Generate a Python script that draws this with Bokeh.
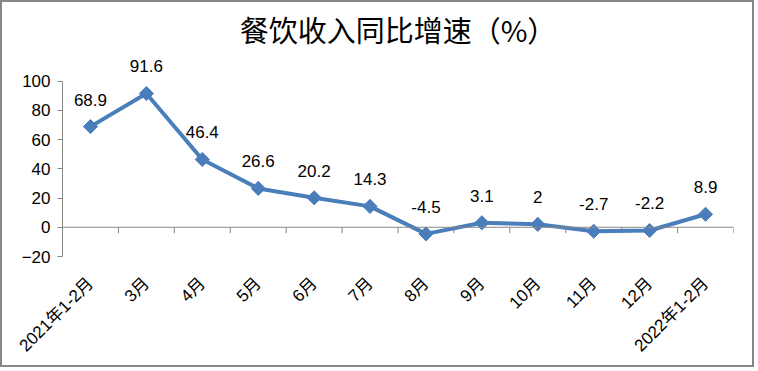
import numpy as np
from bokeh.plotting import figure
from bokeh.models import Range1d, FixedTicker, Span, ColumnDataSource, LinearAxis, LabelSet
from bokeh.core.properties import value
from bokeh.embed import file_html
from bokeh.resources import INLINE

categories = ["2021年1-2月", "3月", "4月", "5月", "6月", "7月", "8月", "9月", "10月", "11月", "12月", "2022年1-2月"]
growth = [68.9, 91.6, 46.4, 26.6, 20.2, 14.3, -4.5, 3.1, 2, -2.7, -2.2, 8.9]
value_labels = ["68.9", "91.6", "46.4", "26.6", "20.2", "14.3", "-4.5", "3.1", "2", "-2.7", "-2.2", "8.9"]
y_ticks = [-20, 0, 20, 40, 60, 80, 100]

FONT = "Liberation Sans"
AXIS_GRAY = "#868686"
BLUE = "#4a7ebb"

n = len(categories)
xs = [i + 0.5 for i in range(n)]

# canvas 754x367 inside a 2px CSS border -> 758x371 overall
p = figure(width=754, height=367, output_backend="svg", toolbar_location=None,
           x_range=Range1d(0, n), y_range=Range1d(-20, 121),
           min_border_left=60, min_border_right=23, min_border_top=48, min_border_bottom=113,
           x_axis_type=None, y_axis_type=None)
p.styles = {"border": "2px solid #868686"}
p.outline_line_color = None
p.xgrid.visible = False
p.ygrid.visible = False

p.title.text = "餐饮收入同比增速（%）"
p.title.align = "center"
p.title.text_font = "Noto Sans CJK SC"
p.title.text_font_size = "29px"
p.title.text_font_style = "normal"
p.title.text_color = "#000000"
p.title.standoff = 2

# y axis
yax = LinearAxis(ticker=FixedTicker(ticks=y_ticks), bounds=(-20, 100))
yax.axis_line_color = AXIS_GRAY
yax.major_tick_line_color = AXIS_GRAY
yax.major_tick_out = 5
yax.major_tick_in = 0
yax.minor_tick_line_color = None
yax.major_label_text_font = FONT
yax.major_label_text_font_size = "17px"
yax.major_label_text_color = "#000000"
yax.major_label_standoff = 7
p.add_layout(yax, "left")

# x category labels below
xax = LinearAxis(ticker=FixedTicker(ticks=xs))
xax.major_label_overrides = {x: c for x, c in zip(xs, categories)}
xax.axis_line_color = None
xax.major_tick_line_color = None
xax.minor_tick_line_color = None
xax.major_label_orientation = np.pi / 4
xax.major_label_text_font = "Liberation Sans, Noto Sans CJK SC"
xax.major_label_text_font_size = "17px"
xax.major_label_text_color = "#000000"
xax.major_label_standoff = 18
p.add_layout(xax, "below")

# zero line with category boundary ticks
p.add_layout(Span(location=0, dimension="width", line_color=AXIS_GRAY, line_width=1))
p.ray(x=list(range(n + 1)), y=[0] * (n + 1), length=6, length_units="screen",
      angle=-np.pi / 2, line_color=AXIS_GRAY, line_width=1)

src = ColumnDataSource(dict(x=xs, y=growth, lab=value_labels))
p.line("x", "y", source=src, line_color=BLUE, line_width=4)
p.scatter("x", "y", source=src, marker="square", angle=np.pi / 4, size=10,
          fill_color=BLUE, line_color=BLUE, line_width=1)
labels = LabelSet(x="x", y="y", text="lab", source=src, text_align="center",
                  text_baseline="middle", y_offset=27, text_font=value(FONT),
                  text_font_size=value("17px"), text_color=value("#000000"))
p.add_layout(labels)

open("out.html", "w").write(file_html(p, INLINE))
